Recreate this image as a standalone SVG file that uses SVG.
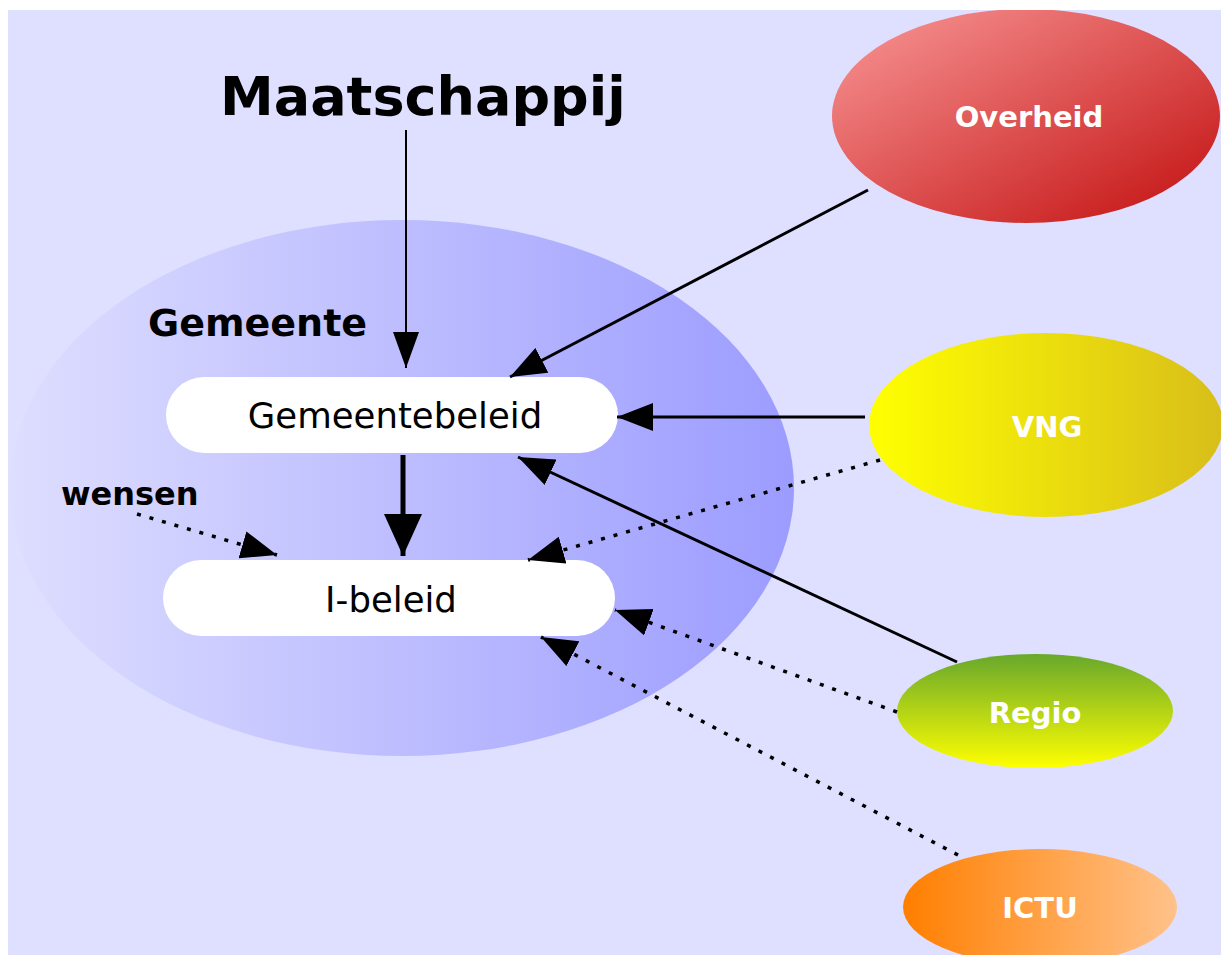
<svg xmlns="http://www.w3.org/2000/svg" width="1221" height="955" viewBox="0 0 1221 955">
<style>
.lbl{font-family:"DejaVu Sans",Verdana,sans-serif;}
.wb{font-family:"DejaVu Sans",Verdana,sans-serif;font-weight:bold;fill:#ffffff;font-size:29px;text-anchor:middle;}
.solid{stroke:#000;stroke-width:3;fill:none;}
.dot{stroke:#000;stroke-width:3.5;fill:none;stroke-dasharray:4 9;}
</style>
<defs>
<clipPath id="bgclip"><rect x="8" y="10" width="1213" height="945"/></clipPath>
<linearGradient id="gBig" x1="0" y1="0" x2="1" y2="0">
<stop offset="0" stop-color="#DEDEFF"/><stop offset="1" stop-color="#9C9CFF"/>
</linearGradient>
<linearGradient id="gOver" x1="0" y1="0" x2="1" y2="1">
<stop offset="0" stop-color="#FA9898"/><stop offset="1" stop-color="#C20E0E"/>
</linearGradient>
<linearGradient id="gVng" x1="0" y1="0" x2="1" y2="0">
<stop offset="0" stop-color="#FFFF00"/><stop offset="1" stop-color="#D8BE1A"/>
</linearGradient>
<linearGradient id="gRegio" x1="0" y1="0" x2="0" y2="1">
<stop offset="0" stop-color="#68A82C"/><stop offset="1" stop-color="#FFFF00"/>
</linearGradient>
<linearGradient id="gIctu" x1="0" y1="0" x2="1" y2="0">
<stop offset="0" stop-color="#FF7F00"/><stop offset="1" stop-color="#FFC28A"/>
</linearGradient>
<marker id="ah" markerUnits="userSpaceOnUse" markerWidth="36" markerHeight="28" refX="36" refY="14" orient="auto">
<path d="M0,0 L36,14 L0,28 z" fill="#000"/>
</marker>
<marker id="ahs" markerUnits="userSpaceOnUse" markerWidth="36" markerHeight="28" refX="36" refY="14" orient="auto">
<path d="M0,1 L36,14 L0,27 z" fill="#000"/>
</marker>
<marker id="ahb" markerUnits="userSpaceOnUse" markerWidth="42" markerHeight="38" refX="42" refY="19" orient="auto">
<path d="M0,0 L42,19 L0,38 z" fill="#000"/>
</marker>
</defs>
<g clip-path="url(#bgclip)">
<rect x="8" y="10" width="1213" height="945" fill="#DFDFFF"/>
<g id="gemeente">
<ellipse cx="402" cy="488" rx="392" ry="268" fill="url(#gBig)"/>
<text class="lbl" x="148" y="336" font-size="38" font-weight="bold" fill="#000">Gemeente</text>
</g>
<g id="maatschappij">
<text class="lbl" x="220" y="115" font-size="54" font-weight="bold" fill="#000">Maatschappij</text>
</g>
<g id="overheid">
<ellipse cx="1026" cy="116" rx="194" ry="107" fill="url(#gOver)"/>
<text class="wb" x="1029" y="127">Overheid</text>
</g>
<g id="vng">
<ellipse cx="1046" cy="425" rx="177" ry="92" fill="url(#gVng)"/>
<text class="wb" x="1047" y="437" font-size="30">VNG</text>
</g>
<g id="regio">
<ellipse cx="1035" cy="711" rx="138" ry="57" fill="url(#gRegio)"/>
<text class="wb" x="1035" y="723" font-size="30">Regio</text>
</g>
<g id="ictu">
<ellipse cx="1040" cy="907" rx="137" ry="58" fill="url(#gIctu)"/>
<text class="wb" x="1040" y="918" font-size="31">ICTU</text>
</g>
<g id="wensen">
<text class="lbl" x="61" y="505" font-size="32" font-weight="bold" fill="#000">wensen</text>
</g>
<g id="gemeentebeleid">
<rect x="166" y="377" width="452" height="76" rx="38" ry="38" fill="#fff"/>
<text class="lbl" x="395" y="428" font-size="35.5" text-anchor="middle" fill="#000">Gemeentebeleid</text>
</g>
<g id="ibeleid">
<rect x="163" y="560" width="452" height="76" rx="38" ry="38" fill="#fff"/>
<text class="lbl" x="391" y="612" font-size="35.5" text-anchor="middle" fill="#000">I-beleid</text>
</g>
<g id="connectors">
<line x1="406" y1="130" x2="406" y2="368" stroke="#000" stroke-width="2" marker-end="url(#ahs)"/>
<line x1="868" y1="190" x2="510" y2="377" class="solid" marker-end="url(#ah)"/>
<line x1="865" y1="417" x2="617" y2="417" class="solid" marker-end="url(#ah)"/>
<line x1="957" y1="662" x2="518" y2="457" class="solid" marker-end="url(#ah)"/>
<line x1="403" y1="455" x2="403" y2="556" stroke="#000" stroke-width="5" marker-end="url(#ahb)"/>
<line x1="880" y1="460" x2="528" y2="560" class="dot" marker-end="url(#ah)"/>
<line x1="137" y1="514" x2="277" y2="555" class="dot" marker-end="url(#ah)"/>
<line x1="897" y1="712" x2="615" y2="610" class="dot" marker-end="url(#ah)"/>
<line x1="958" y1="855" x2="541" y2="637" class="dot" marker-end="url(#ah)"/>
</g>
</g>
</svg>
